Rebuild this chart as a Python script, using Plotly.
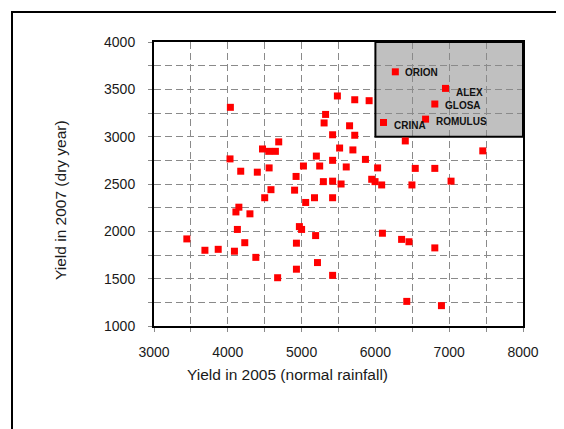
import plotly.graph_objects as go

# Yield in 2005 (normal rainfall) and 2007 (dry year)
x_2005 = [6270, 6950, 6805, 6680, 6110,
          4035, 5485, 5720, 5915, 5325, 5305, 5650, 5420, 5720, 6405, 4690,
          4470, 4555, 4645, 5515, 5695, 7455, 4030, 5200, 5420, 5865, 4175,
          4400, 4560, 5025, 5245, 5605, 6030, 6540, 6805, 4925, 5295, 5420,
          5535, 5950, 5995, 6085, 6495, 7025, 4585, 4905, 4500, 5175, 5420,
          5055, 4150, 4110, 4300, 4130, 3445, 4230, 3690, 3870, 4090, 4380,
          4970, 5000, 5190, 4930, 5215, 4930, 4675, 5420, 6095, 6355, 6455,
          6805, 6425, 6895]
y_2007 = [3685, 3510, 3345, 3185, 3150,
          3310, 3430, 3390, 3380, 3235, 3145, 3115, 3020, 3015, 2955, 2945,
          2870, 2845, 2845, 2880, 2860, 2850, 2765, 2795, 2750, 2760, 2635,
          2625, 2670, 2690, 2690, 2680, 2670, 2665, 2665, 2580, 2525, 2530,
          2500, 2550, 2525, 2490, 2490, 2530, 2440, 2435, 2355, 2355, 2355,
          2305, 2255, 2205, 2185, 2020, 1920, 1880, 1800, 1810, 1790, 1725,
          2050, 2020, 1955, 1875, 1670, 1600, 1510, 1535, 1980, 1915, 1890,
          1825, 1260, 1215]
labels = ["ORION", "ALEX", "GLOSA", "ROMULUS", "CRINA"]
label_dx = [110, 110, 110, 110, 110]
label_dy = [-5, -45, -20, -25, -35]

x_title = "Yield in 2005 (normal rainfall)"
y_title = "Yield in 2007 (dry year)"

OFF = 8  # page body margin
L, R, T, B = 154 - OFF, 523 - OFF, 42 - OFF, 326 - OFF
W, H = 564 - OFF, 429 - OFF

fig = go.Figure()
fig.add_trace(go.Scatter(
    x=x_2005, y=y_2007, mode="markers",
    marker=dict(symbol="square", size=7, color="#ff0000", line=dict(width=0)),
    showlegend=False, hoverinfo="x+y"))

for i, name in enumerate(labels):
    fig.add_annotation(x=x_2005[i] + label_dx[i], y=y_2007[i] + label_dy[i],
                       text=f"<b>{name}</b>", showarrow=False, xanchor="left",
                       yanchor="middle",
                       font=dict(family="Liberation Sans, Arial", size=10, color="#111"))

grid_style = dict(showgrid=True, gridcolor="#8a8a8a", gridwidth=1, griddash="7px,4px")
axis_common = dict(
    showline=True, linecolor="black", linewidth=2, mirror=True,
    ticks="outside", ticklen=4, tickcolor="#8a8a8a", zeroline=False,
    tickfont=dict(family="Liberation Sans, Arial", size=14, color="#1a1a1a"),
    **grid_style)

fig.update_xaxes(range=[3000, 8000], dtick=1000, tick0=3000,
                 minor=dict(dtick=500, ticks="outside", ticklen=4, tickcolor="#8a8a8a",
                            showgrid=True, gridcolor="#8a8a8a", griddash="7px,4px"),
                 ticklabelstandoff=8, **axis_common)
fig.update_yaxes(range=[1000, 4000], dtick=500, tick0=1000,
                 minor=dict(dtick=250, ticks="outside", ticklen=4, tickcolor="#8a8a8a",
                            showgrid=True, gridcolor="#8a8a8a", griddash="7px,4px"),
                 ticklabelstandoff=10, **axis_common)

# shaded region of top performers
fig.add_shape(type="rect", x0=6000, x1=8000, y0=3000, y1=4000, xref="x", yref="y",
              fillcolor="#c0c0c0", line=dict(width=0), layer="below")
fig.add_shape(type="rect", x0=6000, x1=8000, y0=3000, y1=4000, xref="x", yref="y",
              fillcolor="rgba(0,0,0,0)", line=dict(color="black", width=2), layer="between")

# outer frame
pw, ph = R - L, B - T
fig.add_shape(type="rect", xref="paper", yref="paper",
              x0=(12 - OFF - L) / pw, x1=(W + 10 - L) / pw,
              y0=(B - (H + 10)) / ph, y1=(B - (12 - OFF)) / ph,
              line=dict(color="black", width=2), fillcolor="rgba(0,0,0,0)", layer="above")

fig.add_annotation(xref="paper", yref="paper", x=(287 - OFF - L) / pw, y=(B - (374 - OFF)) / ph,
                   text=x_title, showarrow=False, xanchor="center", yanchor="middle",
                   font=dict(family="Liberation Sans, Arial", size=15.5, color="#1a1a1a"))
fig.add_annotation(xref="paper", yref="paper", x=(61 - OFF - L) / pw, y=(B - (200 - OFF)) / ph,
                   text=y_title, showarrow=False, textangle=-90, xanchor="center",
                   yanchor="middle",
                   font=dict(family="Liberation Sans, Arial", size=15.5, color="#1a1a1a"))

fig.update_layout(width=W, height=H, margin=dict(l=L, r=W - R, t=T, b=H - B),
                  paper_bgcolor="white", plot_bgcolor="white")
fig.write_html("out.html")
